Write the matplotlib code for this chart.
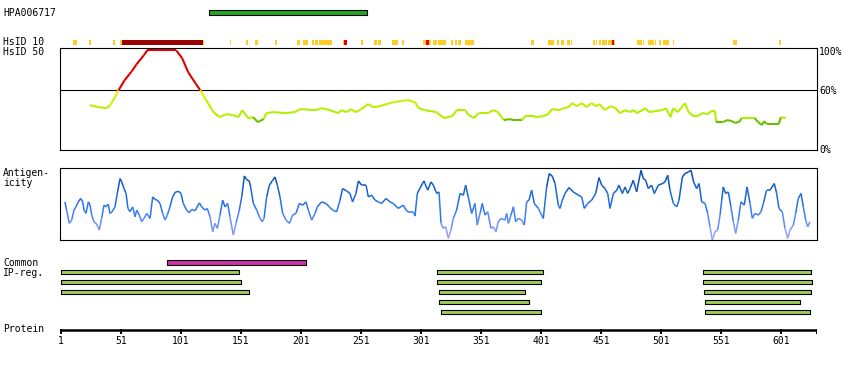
import numpy as np
import matplotlib.pyplot as plt
from matplotlib.collections import LineCollection
from matplotlib.colors import LinearSegmentedColormap

# protein length and axis ticks
protein_len = 631
tick_pos = [1, 51, 101, 151, 201, 251, 301, 351, 401, 451, 501, 551, 601]

# antibody HPA006717 target region
hpa_name = "HPA006717"
hpa_region = (124, 256)

# HsID 10 strip (residue ranges)
hsid10_yellow = [(11, 14), (24, 26), (44, 46), (50, 52), (119, 120), (142, 143), (155, 157),
                 (163, 165), (179, 181), (198, 200), (203, 207), (210, 212), (213, 215),
                 (216, 227), (236, 237), (251, 253), (262, 264), (265, 268), (277, 282),
                 (285, 287), (303, 305), (308, 309), (311, 314), (315, 322), (326, 328),
                 (329, 331), (332, 334), (338, 342), (342, 345), (393, 395), (407, 412),
                 (414, 416), (418, 420), (423, 425), (426, 427), (444, 446), (447, 448),
                 (449, 451), (452, 456), (457, 460), (462, 463), (481, 485), (486, 487),
                 (490, 495), (496, 497), (499, 501), (503, 508), (511, 512), (561, 564),
                 (599, 601)]
hsid10_red = [(237, 239), (305, 308), (460, 462)]
hsid10_darkred = [(52, 119)]

# HsID 50 identity curve (%)
hsid50_res = [25, 32, 39, 42, 46, 49, 54, 60, 64, 70,
              73, 97, 102, 107, 113, 117, 122, 128, 133, 139,
              144, 149, 152, 157, 161, 165, 170, 172, 178, 188,
              196, 200, 214, 218, 225, 232, 235, 239, 243, 246,
              250, 257, 261, 267, 275, 279, 284, 290, 296, 299,
              304, 314, 320, 327, 331, 338, 340, 345, 349, 357,
              361, 365, 370, 375, 378, 385, 388, 395, 397, 403,
              407, 410, 416, 420, 424, 427, 431, 435, 439, 443,
              447, 450, 454, 459, 463, 467, 471, 475, 478, 481,
              488, 491, 502, 505, 509, 511, 515, 521, 524, 528,
              532, 535, 540, 543, 546, 547, 553, 556, 560, 563,
              567, 568, 579, 582, 585, 587, 589, 599, 601, 605]
hsid50_pct = [45, 43, 42, 45, 53, 60, 70, 79, 86, 95,
              100, 100, 92, 78, 67, 60, 50, 38, 33, 36,
              35, 33, 40, 32, 33, 28, 31, 37, 38, 37,
              38, 41, 40, 42, 40, 37, 40, 38, 41, 38,
              40, 46, 43, 44, 47, 48, 49, 50, 48, 42,
              40, 38, 32, 34, 40, 40, 36, 32, 37, 37,
              40, 38, 30, 31, 30, 30, 34, 34, 33, 34,
              36, 41, 40, 42, 43, 47, 44, 47, 43, 47,
              44, 46, 40, 44, 42, 37, 40, 38, 40, 37,
              42, 38, 40, 42, 33, 42, 38, 47, 38, 34,
              34, 37, 36, 39, 39, 28, 28, 30, 29, 27,
              29, 32, 32, 28, 25, 29, 26, 26, 33, 32]

# antigenicity profile
antig_res = [4.3, 5.7, 7.9, 9.9, 11.8, 13.5, 14.9, 17.4, 19.1, 20.2,
             21.8, 23.8, 25.2, 26.6, 28.5, 30.7, 32.9, 34.9, 36.8, 38.5,
             40.4, 41.8, 43.5, 46.0, 47.9, 50.2, 51.6, 53.5, 55.2, 56.8,
             58.5, 60.7, 62.7, 64.1, 66.3, 68.2, 70.2, 72.4, 75.2, 77.4,
             79.3, 81.3, 83.5, 85.7, 87.7, 89.6, 91.8, 94.0, 96.0, 98.8,
             101.0, 102.9, 105.7, 107.9, 109.9, 112.7, 116.3, 118.2, 121.0, 122.9,
             125.2, 127.4, 129.3, 131.3, 133.5, 135.7, 137.7, 139.9, 141.8, 144.6,
             146.8, 149.6, 151.6, 153.8, 155.7, 157.9, 159.0, 161.3, 164.1, 166.3,
             168.5, 170.2, 172.4, 174.6, 177.4, 179.3, 181.3, 183.5, 185.7, 188.5,
             191.3, 194.0, 196.8, 199.6, 202.4, 205.2, 207.1, 209.9, 212.7, 214.6,
             218.2, 221.8, 224.6, 227.4, 230.7, 233.5, 235.7, 239.0, 241.8, 244.0,
             246.8, 248.8, 251.6, 255.2, 257.1, 259.9, 262.7, 265.5, 268.2, 271.8,
             275.2, 277.9, 282.1, 286.3, 288.5, 290.4, 294.6, 296.0, 297.9, 300.7,
             303.5, 304.3, 306.6, 309.3, 311.3, 314.1, 316.0, 317.7, 319.6, 321.6,
             323.8, 326.0, 327.9, 330.7, 333.5, 336.3, 338.2, 340.4, 343.2, 346.0,
             347.9, 350.2, 352.1, 354.3, 356.6, 359.3, 361.3, 363.5, 365.4, 367.7,
             371.0, 372.4, 373.8, 376.0, 378.0, 379.9, 382.1, 384.9, 387.1, 389.1,
             391.0, 393.2, 395.4, 398.8, 402.9, 405.7, 407.9, 410.4, 412.7, 415.4,
             416.8, 418.8, 421.0, 424.3, 427.9, 432.1, 434.9, 437.1, 439.9, 443.2,
             446.6, 449.3, 451.6, 454.3, 456.6, 458.5, 461.3, 464.1, 466.0, 468.8,
             471.0, 473.2, 475.2, 477.9, 480.7, 484.3, 486.3, 488.2, 490.4, 493.2,
             495.4, 498.8, 502.1, 504.3, 506.6, 508.5, 511.3, 514.1, 516.0, 518.8,
             521.0, 523.8, 526.0, 528.2, 530.7, 532.7, 534.9, 537.7, 539.9, 541.8,
             543.8, 546.0, 548.2, 550.2, 551.6, 552.9, 554.9, 557.1, 559.3, 561.3,
             563.2, 565.4, 567.7, 570.4, 572.7, 575.2, 577.1, 579.3, 582.1, 584.3,
             586.3, 589.0, 591.8, 595.4, 597.4, 599.3, 602.1, 604.3, 606.6, 608.5,
             611.3, 613.2, 615.4, 617.7, 619.6, 621.6, 623.2, 625.2]
antig_val = [38.3, 30, 16.7, 20, 30, 33.3, 37.3, 41.7, 38.3, 30,
             26.7, 38.3, 35, 25, 18.3, 16, 10, 21.7, 35, 33.3,
             36, 26.7, 28.3, 33.3, 46.7, 61.7, 58.3, 51.7, 46.7, 31.7,
             28.3, 33.3, 23.3, 30, 25, 18.3, 21.7, 26.7, 21.7, 43.3,
             40.7, 40, 36.7, 26.7, 20, 25, 33.3, 43.3, 47.7, 49,
             46.7, 36.7, 30, 27.3, 30.7, 29.3, 37.3, 33.3, 30, 31.7,
             23.3, 8.3, 16.7, 11.7, 25, 40, 33.3, 36.7, 23.3, 5,
             16.7, 30, 43.3, 64.3, 60.7, 59.3, 53.3, 36.7, 30, 23.3,
             18.3, 21.7, 43.3, 55, 60, 63.3, 55, 43.3, 26.7, 20,
             16.7, 25, 26.7, 36.7, 35, 38.3, 30, 20, 26.7, 33.3,
             38.3, 36.7, 33.3, 30, 28.3, 40, 51.7, 49.3, 46.7, 38.3,
             46.7, 59.3, 55, 55, 43.3, 45, 40, 38.3, 36.7, 41.7,
             38.3, 36.7, 31.7, 35, 30, 28.3, 28.3, 24, 46.7, 53.3,
             59.3, 56.7, 50, 58.3, 55, 46.7, 48.3, 16.7, 11.7, 13.3,
             1.7, 10, 21.7, 30, 46.7, 45, 55, 43.3, 26.7, 36.7,
             15, 26.7, 36.7, 25, 28.3, 11.7, 13.3, 8.3, 18.3, 21.7,
             20, 26.7, 16.7, 25, 33.3, 18.3, 21.7, 20, 15, 38.3,
             40, 50, 36.7, 31.7, 21.7, 53.3, 66.7, 64, 56.7, 35,
             31.7, 40, 46.7, 52.7, 48.3, 45, 43.3, 31.7, 36.7, 40,
             46.7, 62.7, 55, 51.7, 46.7, 31.7, 46.7, 50, 55, 46.7,
             53.3, 46.7, 51.7, 60, 48.3, 70, 61.7, 60, 51.7, 55,
             46.7, 55, 56.7, 58.3, 65, 50, 36.7, 33.3, 40, 63.3,
             66.7, 68.3, 70, 58.3, 51.7, 56.7, 38.3, 36.7, 26.7, 13.3,
             0, 8.3, 10, 25, 40, 53.3, 46.7, 48.3, 33.3, 18.3,
             6.7, 20, 38.3, 35, 53.3, 36.7, 21.7, 26.7, 25, 28.3,
             36.7, 50, 50, 56.7, 46.7, 31.7, 28.3, 11.7, 1.7, 10,
             15, 26.7, 41.7, 46.7, 33.3, 20, 13.3, 18.3]

# common region and IP-reg regions
common_region = (89, 205)
ipreg_rows = [
    [(1, 149), (314, 403), (536, 626)],
    [(1, 151), (314, 401), (536, 627)],
    [(1, 158), (316, 388), (537, 626)],
    [(316, 391), (538, 617)],
    [(318, 401), (538, 625)],
]

W, H = 850, 370
fig = plt.figure(figsize=(8.5, 3.7), dpi=100)
mono = "DejaVu Sans Mono"
fs = 7

x0, x1 = 60, 817
xlim = (1 - 1 / 1.2, protein_len)


def add_ax(top, bottom):
    return fig.add_axes([x0 / W, 1 - bottom / H, (x1 - x0) / W, (bottom - top) / H])


# full-height overlay axes (y in pixels from top)
ax = fig.add_axes([x0 / W, 0, (x1 - x0) / W, 1])
ax.set_xlim(*xlim)
ax.set_ylim(H, 0)
ax.axis("off")

# HPA bar
ax.broken_barh([(hpa_region[0], hpa_region[1] - hpa_region[0])], (10.3, 4.4),
               facecolors="#22A822", edgecolors="black", linewidth=0.8)

# HsID 10 strip
ax.broken_barh([(a, b - a) for a, b in hsid10_yellow], (40, 4.7), facecolors="#FFCC22")
ax.broken_barh([(a, b - a) for a, b in hsid10_darkred], (40, 4.7), facecolors="#990000")
ax.broken_barh([(a, b - a) for a, b in hsid10_red], (40, 4.7), facecolors="#EE0000")

# common / IP-reg bars
ax.broken_barh([(common_region[0], common_region[1] - common_region[0])], (260.4, 4.2),
               facecolors="#CC33AA", edgecolors="black", linewidth=0.8)
for i, row in enumerate(ipreg_rows):
    ax.broken_barh([(a, b - a) for a, b in row], (270.4 + 10 * i, 4.0),
                   facecolors="#A0CC5A", edgecolors="black", linewidth=0.8)

# protein axis
ax.hlines(329.5, 1, protein_len, color="black", lw=1.8)
ax.vlines(tick_pos + [protein_len], 328.5, 333.5, color="black", lw=1.5)
for t in tick_pos:
    ax.text(t, 341.5, str(t), ha="center", va="center", fontsize=fs, family=mono)

# HsID 50 panel
ax_id = add_ax(48.3, 150)
ax_id.set_xlim(*xlim)
ax_id.set_ylim(0, 102)
ax_id.set_xticks([])
ax_id.set_yticks([])
for s in ax_id.spines.values():
    s.set_linewidth(0.8)
ax_id.axhline(60, color="black", lw=0.8)

gy = LinearSegmentedColormap.from_list("gy", ["#B4EE00", "#F0F000"])
hx = np.array(hsid50_res, float)
hy = np.array(hsid50_pct, float)
segs, cols = [], []
for i in range(len(hx) - 1):
    m = (hy[i] + hy[i + 1]) / 2
    segs.append([(hx[i], hy[i]), (hx[i + 1], hy[i + 1])])
    if m >= 60:
        cols.append("#E00000")
    elif m <= 30.5:
        cols.append("#66C000")
    else:
        cols.append(gy(np.clip((m - 40) / 20, 0, 1)))
ax_id.add_collection(LineCollection(segs, colors=cols, linewidths=1.5))

# antigenicity panel
ax_ag = add_ax(168.3, 240)
ax_ag.set_xlim(*xlim)
ax_ag.set_ylim(0, 72)
ax_ag.set_xticks([])
ax_ag.set_yticks([])
for s in ax_ag.spines.values():
    s.set_linewidth(0.8)

bl = LinearSegmentedColormap.from_list("bl", [(0, "#B0A8FF"), (0.45, "#2A78F0"), (1, "#0048A8")])
axr = np.array(antig_res, float)
avl = np.array(antig_val, float)
pts = np.column_stack([axr, avl]).reshape(-1, 1, 2)
asegs = np.concatenate([pts[:-1], pts[1:]], axis=1)
amid = (avl[:-1] + avl[1:]) / 2
ax_ag.add_collection(LineCollection(asegs, colors=bl(amid / 70), linewidths=1.1))

# labels
def label(x, y, s, ha="left"):
    fig.text(x / W, 1 - y / H, s, ha=ha, va="center", fontsize=fs, family=mono)


label(3, 12.5, hpa_name)
label(3, 42, "HsID 10")
label(3, 52, "HsID 50")
label(3, 173, "Antigen-")
label(3, 183.5, "icity")
label(3, 262.5, "Common")
label(3, 273, "IP-reg.")
label(3, 329.5, "Protein")
label(819, 52, "100%")
label(819, 90.5, "60%")
label(819, 150, "0%")

fig.savefig("out.png", dpi=100)
